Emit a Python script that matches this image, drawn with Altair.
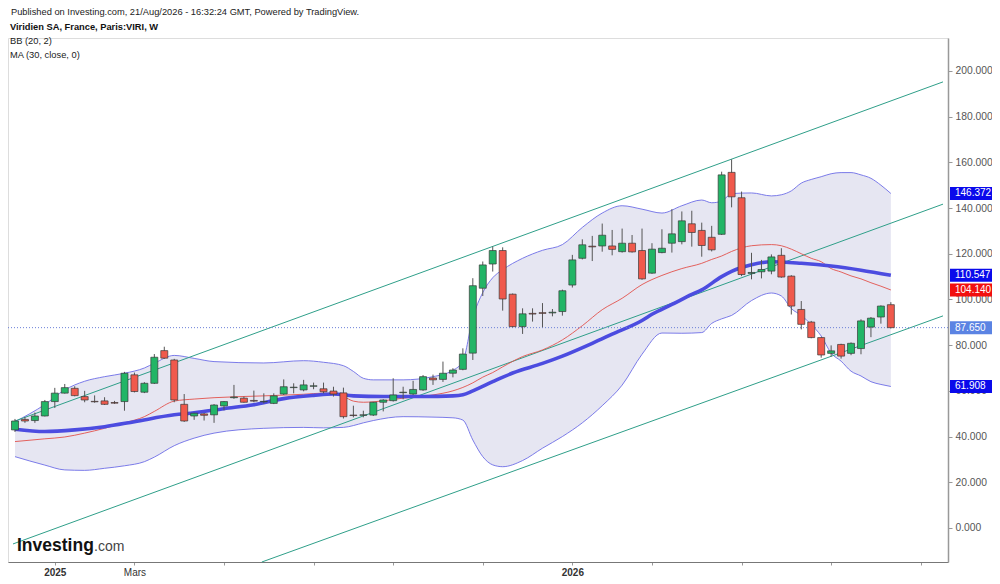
import altair as alt
import pandas as pd

# ---------------- data ----------------
opens = [42.9, 47.5, 47.0, 49.0, 55.3, 59.0, 61.1, 57.5, 55.4, 55.6,
         54.9, 55.3, 67.0, 59.4, 63.3, 77.6, 73.5, 54.1, 49.0, 49.9,
         49.5, 53.4, 57.0, 56.8, 55.8, 55.2, 54.5, 58.6, 61.4, 60.4,
         62.0, 60.9, 59.9, 59.1, 49.4, 49.3, 49.4, 55.0, 55.7, 59.2,
         58.6, 60.4, 65.6, 65.0, 67.7, 69.4, 76.5, 104.9, 115.5, 121.4,
         102.3, 88.1, 93.9, 94.2, 94.1, 94.7, 106.3, 118.0, 123.3, 123.4,
         123.4, 120.9, 124.6, 121.4, 111.5, 120.5, 124.6, 125.3, 133.1, 130.2,
         127.2, 128.5, 155.6, 144.5, 111.4, 112.1, 112.4, 119.3, 110.2, 95.6,
         90.1, 83.3, 76.4, 80.3, 76.4, 78.5, 87.9, 92.3, 97.7]
highs = [47.7, 48.5, 50.5, 56.0, 61.3, 63.0, 62.0, 60.0, 58.0, 57.2,
         55.6, 68.3, 68.0, 63.8, 76.1, 79.3, 74.0, 58.6, 50.4, 50.3,
         54.2, 55.5, 62.6, 57.5, 60.1, 58.9, 58.9, 65.0, 63.3, 64.8,
         63.6, 63.6, 61.8, 61.4, 53.5, 51.3, 55.2, 56.3, 65.5, 61.8,
         64.4, 66.9, 67.1, 72.8, 69.9, 78.6, 109.3, 116.6, 123.1, 122.8,
         102.6, 96.1, 96.1, 98.4, 95.8, 104.3, 119.5, 126.3, 127.8, 133.2,
         130.4, 131.0, 128.2, 131.0, 124.6, 130.7, 139.5, 138.5, 138.8, 133.6,
         132.2, 155.9, 161.3, 147.2, 120.4, 117.3, 119.7, 122.4, 110.6, 99.3,
         90.6, 83.6, 79.9, 80.6, 81.2, 91.3, 92.3, 97.4, 98.8]
lows = [42.0, 46.0, 46.0, 48.8, 52.5, 58.8, 57.6, 55.0, 54.8, 53.8,
        54.3, 51.3, 59.3, 59.0, 63.0, 74.0, 55.0, 46.4, 47.3, 47.0,
        46.0, 51.5, 56.5, 54.8, 55.0, 54.5, 54.2, 58.2, 58.9, 59.8,
        60.7, 58.9, 57.5, 47.9, 48.4, 48.4, 49.0, 51.0, 55.3, 56.3,
        58.2, 60.0, 62.6, 63.9, 65.9, 69.0, 73.5, 101.5, 112.2, 95.1,
        87.8, 84.9, 90.3, 87.8, 92.6, 92.9, 105.2, 117.5, 116.8, 120.9,
        119.3, 120.5, 120.5, 108.6, 111.2, 120.2, 120.5, 124.1, 123.1, 118.7,
        121.0, 128.2, 140.3, 110.2, 108.8, 109.2, 111.0, 109.5, 93.4, 86.9,
        83.0, 74.5, 75.0, 74.1, 75.6, 76.0, 83.5, 89.4, 87.3]
closes = [46.8, 46.8, 49.0, 55.3, 59.0, 61.4, 57.9, 56.0, 55.2, 54.1,
          54.6, 67.7, 59.7, 63.3, 74.7, 74.3, 56.0, 46.8, 50.2, 49.3,
          53.8, 55.3, 57.3, 55.0, 55.5, 55.4, 57.8, 61.8, 61.6, 62.6,
          62.2, 59.6, 58.6, 48.7, 49.2, 49.5, 55.0, 56.0, 58.2, 59.4,
          60.6, 66.2, 64.8, 67.7, 69.1, 76.1, 106.0, 115.1, 121.4, 100.2,
          88.1, 93.7, 93.6, 93.9, 94.4, 103.8, 117.3, 123.9, 123.0, 128.1,
          121.9, 124.6, 120.8, 109.0, 122.0, 122.4, 128.7, 134.4, 129.3, 123.6,
          121.7, 154.5, 144.9, 110.9, 111.8, 113.1, 118.6, 109.8, 97.1, 89.1,
          83.3, 75.7, 77.5, 75.2, 80.8, 90.6, 91.8, 97.1, 87.65]

# Bollinger bands (20, 2) at these bar positions
bb_idx = [0, 3, 5, 7, 9, 11, 13, 14, 16, 18, 20, 25, 29, 31, 33, 34, 35, 36, 39, 42,
          44, 45, 46, 47, 48, 49, 51, 53, 55, 57, 59, 61, 63, 65, 67, 69, 70, 71, 72, 74,
          76, 77, 78, 79, 80, 81, 82, 83, 84, 85, 86, 87, 88]
bb_upper = [46.5, 54.0, 60.4, 64.2, 66.2, 67.7, 70.0, 72.1, 75.5, 74.2, 72.8, 72.2, 73.2, 72.5, 71.0, 68.5, 65.5, 64.8, 64.8, 66.2,
            69.0, 73.0, 92.0, 103.0, 109.5, 113.0, 118.0, 121.5, 124.0, 131.5, 137.8, 141.0, 139.5, 137.8, 141.0, 143.5, 142.3, 143.0, 146.3, 146.6,
            145.3, 145.8, 147.5, 150.9, 152.5, 153.7, 155.0, 155.5, 155.5, 154.5, 153.0, 150.0, 146.372]
bb_mid = [37.8, 39.0, 39.8, 41.5, 43.6, 46.0, 48.7, 51.0, 55.5, 56.4, 57.0, 57.8, 58.5, 59.0, 57.5, 55.5, 55.0, 55.2, 56.8, 58.2,
          60.0, 61.5, 63.5, 66.0, 68.0, 70.5, 75.0, 77.9, 82.3, 88.5, 95.5, 100.5, 106.5, 110.5, 113.5, 115.8, 117.5, 119.0, 121.0, 123.5,
          124.0, 123.5, 122.0, 120.0, 118.0, 116.5, 113.5, 112.0, 110.3, 109.0, 107.3, 105.8, 104.14]
bb_lower = [31.2, 27.5, 25.4, 25.2, 26.1, 27.2, 29.0, 31.0, 36.0, 39.3, 41.5, 43.6, 44.0, 43.8, 44.0, 44.8, 46.0, 47.0, 48.7, 48.5,
            48.2, 47.2, 38.5, 31.2, 27.6, 26.8, 29.5, 34.9, 40.0, 46.0, 53.5, 62.5, 76.0, 85.3, 85.2, 85.5, 89.5, 91.5, 93.0, 99.5,
            102.8, 101.5, 96.0, 93.0, 89.0, 84.0, 76.5, 73.0, 68.6, 66.5, 64.0, 62.8, 61.908]

# MA (30, close)
ma_idx = [0, 3, 6, 9, 12, 16, 18, 21, 24, 27, 30, 32, 34, 37, 41, 44, 45, 46, 48, 50,
          53, 55, 58, 60, 63, 64, 66, 68, 69, 71, 72, 74, 76, 79, 82, 85, 88]
ma_vals = [43.2, 42.2, 42.9, 44.3, 46.5, 49.5, 50.4, 52.2, 53.9, 56.6, 58.0, 58.6, 57.8, 57.5, 57.5, 57.8, 58.3, 60.0, 64.0, 67.8,
           72.0, 75.2, 80.8, 84.8, 90.8, 93.5, 97.8, 102.2, 104.2, 110.0, 112.3, 115.2, 116.5, 115.8, 114.6, 112.8, 110.547]

# drawn channel lines (start bar, start value, end bar, end value)
chan_names = ["A", "B", "C"]
chan_x0 = [0.0, -0.2, 24.8]
chan_v0 = [46.8, -7.0, -14.9]
chan_x1 = [93.24, 93.24, 93.24]
chan_v1 = [195.2, 141.7, 92.8]

# price tags on the right axis
tag_vals = [146.372, 110.547, 104.140, 87.650, 61.908]
tag_cols = ["#0a0aeb", "#0a0aeb", "#f20f0f", "#5b83e3", "#0a0aeb"]
last_close = 87.650

# x-axis ticks (bar index of first bar of month)
tick_idx = [4, 12, 21, 30, 38, 47, 56, 64, 73, 82, 91]
tick_lab = ["2025", "Mars", "", "", "", "", "2026", "", "", "", ""]
y_ticks = [0, 20, 40, 60, 80, 100, 120, 140, 160, 180, 200]

# ---------------- frames ----------------
n = len(closes)
candles = pd.DataFrame({"i": list(range(n)), "open": opens, "high": highs,
                        "low": lows, "close": closes})
bb = pd.DataFrame({"i": bb_idx, "up": bb_upper, "mid": bb_mid, "lo": bb_lower})
ma = pd.DataFrame({"i": ma_idx, "v": ma_vals})
rows = []
for nm, a, b, c, d in zip(chan_names, chan_x0, chan_v0, chan_x1, chan_v1):
    rows.append({"line": nm, "i": a, "v": b})
    rows.append({"line": nm, "i": c, "v": d})
chan = pd.DataFrame(rows)
tags = pd.DataFrame({"v": tag_vals, "col": tag_cols,
                     "lab": [f"{v:.3f}" for v in tag_vals]})

label_expr = " : ".join(
    [f"datum.value == {t} ? '{l}'" for t, l in zip(tick_idx, tick_lab)]) + " : ''"

XS = alt.Scale(domain=[-0.2, 93.24], nice=False, zero=False)
YS = alt.Scale(domain=[-14.9, 214.4], nice=False, zero=False)

x_axis = alt.Axis(values=tick_idx, labelExpr=label_expr, grid=False, title=None,
                  domainColor="#777", domainWidth=1, tickColor="#999", tickSize=3,
                  labelColor="#333", labelFontSize=10, labelPadding=2, labelFlush=False,
                  labelFontWeight={"condition": {"test": "datum.value == 12", "value": "normal"},
                                   "value": "bold"})
y_axis = alt.Axis(orient="right", values=y_ticks, format=".3f", grid=False, title=None,
                  domainColor="#999", domainWidth=1.5, tickColor="#999", tickSize=4,
                  labelColor="#555", labelFontSize=10.3, labelPadding=3)

X = alt.X("i:Q", scale=XS, axis=x_axis)
x_plain = alt.X("i:Q", scale=XS)

band = alt.Chart(bb).mark_area(color="#e6e6f2", interpolate="monotone").encode(
    x=X, y=alt.Y("lo:Q", scale=YS, axis=y_axis), y2="up:Q")
up_line = alt.Chart(bb).mark_line(color="#6d6de6", strokeWidth=0.9, interpolate="monotone").encode(
    x=x_plain, y=alt.Y("up:Q", scale=YS))
lo_line = alt.Chart(bb).mark_line(color="#6d6de6", strokeWidth=0.9, interpolate="monotone").encode(
    x=x_plain, y=alt.Y("lo:Q", scale=YS))
mid_line = alt.Chart(bb).mark_line(color="#e2514c", strokeWidth=0.9, interpolate="monotone").encode(
    x=x_plain, y=alt.Y("mid:Q", scale=YS))
ma_line = alt.Chart(ma).mark_line(color="#4c4ce0", strokeWidth=3.6, interpolate="monotone").encode(
    x=x_plain, y=alt.Y("v:Q", scale=YS))
chan_lines = alt.Chart(chan).mark_line(color="#2f9f89", strokeWidth=1).encode(
    x=x_plain, y=alt.Y("v:Q", scale=YS), detail="line:N")

last_rule = alt.Chart(pd.DataFrame({"v": [last_close]})).mark_rule(
    color="#6b7fd8", strokeDash=[1, 2], strokeWidth=1).encode(y=alt.Y("v:Q", scale=YS))

wicks = alt.Chart(candles).mark_rule(color="#555555", strokeWidth=1).encode(
    x=x_plain, y=alt.Y("low:Q", scale=YS), y2="high:Q")
bodies = alt.Chart(candles).mark_bar(size=7, stroke="#3a3a3a", strokeWidth=0.7).encode(
    x=x_plain, y=alt.Y("open:Q", scale=YS), y2="close:Q",
    fill=alt.condition(alt.datum.close >= alt.datum.open, alt.value("#22b566"), alt.value("#f0594c")))

tag_box = alt.Chart(tags).mark_rect(yOffset=-6.5, y2Offset=6.5).encode(
    x=alt.value(942), x2=alt.value(984),
    y=alt.Y("v:Q", scale=YS), y2="v:Q",
    fill=alt.Fill("col:N", scale=None))
tag_txt = alt.Chart(tags).mark_text(align="left", baseline="middle", color="white",
                                    fontSize=10).encode(
    x=alt.value(947), y=alt.Y("v:Q", scale=YS), text="lab:N")

def txt(s, x, y, **kw):
    return alt.Chart(pd.DataFrame({"t": [s]})).mark_text(align="left", baseline="alphabetic", **kw).encode(
        x=alt.value(x), y=alt.value(y), text="t:N")

h1 = txt("Published on Investing.com, 21/Aug/2026 - 16:32:24 GMT, Powered by TradingView.",
         3, -23, fontSize=9.3, color="#222")
h2 = txt("Viridien SA, France, Paris:VIRI, W", 2, -8, fontSize=9.3, fontWeight="bold", color="#111")
h3 = txt("BB (20, 2)", 2, 6, fontSize=9.3, color="#222")
h4 = txt("MA (30, close, 0)", 2, 20, fontSize=9.3, color="#222")
logo1 = txt("Investing", 9, 513, fontSize=17.5, fontWeight="bold", color="#111")
logo2 = txt(".com", 86, 513, fontSize=14, color="#444")

chart = alt.layer(
    band, up_line, lo_line, chan_lines, mid_line, ma_line, last_rule,
    wicks, bodies, tag_box, tag_txt, h1, h2, h3, h4, logo1, logo2
).properties(
    width=940, height=524,
    autosize=alt.AutoSizeParams(type="none"),
    padding={"left": 0, "top": 30, "right": 44, "bottom": 14},
).configure_view(strokeWidth=0).configure(font="Liberation Sans")

chart.save("out.html", embed_options={"renderer": "svg", "actions": False})
